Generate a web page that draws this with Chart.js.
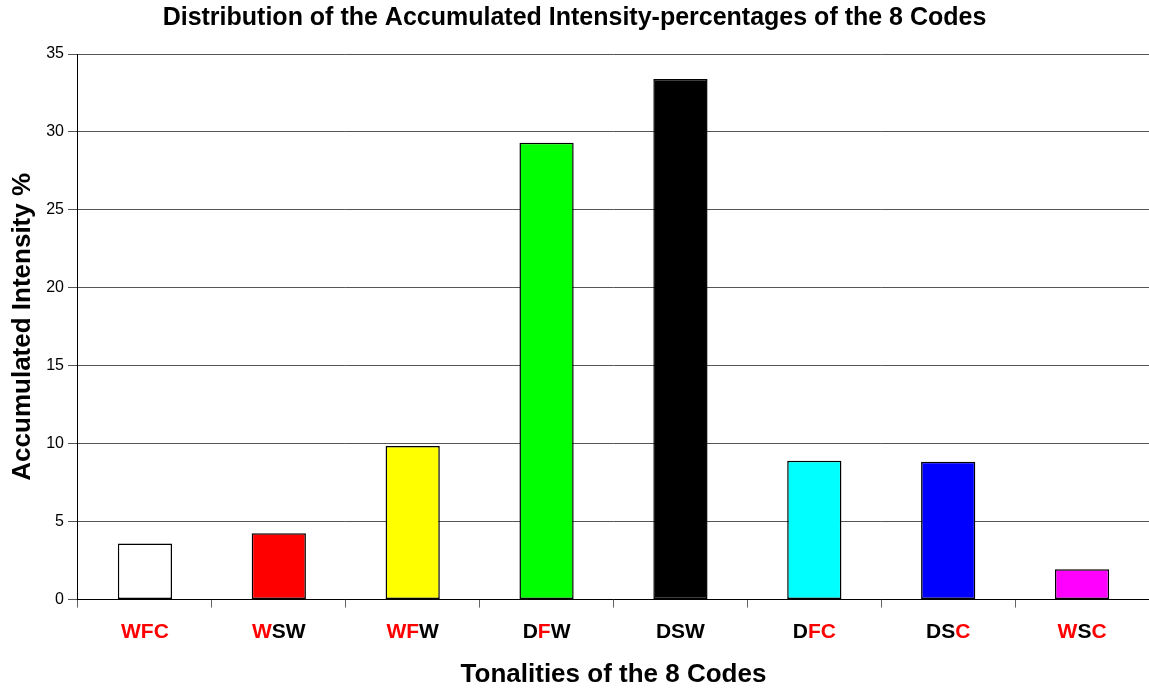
<!DOCTYPE html>
<html>
<head>
<meta charset="utf-8">
<script src="https://cdn.jsdelivr.net/npm/chart.js@4/dist/chart.umd.min.js"></script>
<style>
  html, body { margin: 0; padding: 0; background: #fff; }
  #wrap { width: 1149px; height: 690px; }
</style>
</head>
<body>
<div id="wrap"><canvas id="myChart"></canvas></div>
<script>
// categories and values
const codes = ['WFC', 'WSW', 'WFW', 'DFW', 'DSW', 'DFC', 'DSC', 'WSC'];
// letter colours of each label: R = red, K = black
const letterColors = ['RRR', 'RKK', 'RRK', 'KRK', 'KKK', 'KRR', 'KKR', 'RKR'];
const intensity = [3.6, 4.25, 9.85, 29.3, 33.4, 8.9, 8.85, 1.95];
const barColors = ['#ffffff', '#ff0000', '#ffff00', '#00ff00', '#000000', '#00ffff', '#0000ff', '#ff00ff'];
const yTicks = [0, 5, 10, 15, 20, 25, 30, 35];

const font = 'Liberation Sans, Arial, sans-serif';

// draws the x labels letter by letter in two colours
const colouredLabels = {
    id: 'colouredLabels',
    afterDraw(chart) {
        const ctx = chart.ctx;
        const xs = chart.scales.x;
        ctx.save();
        ctx.font = 'bold 21px ' + font;
        ctx.textBaseline = 'middle';
        ctx.textAlign = 'left';
        codes.forEach(function (code, i) {
            const cx = xs.getPixelForValue(i);
            const w = ctx.measureText(code).width;
            let x = cx - w / 2;
            for (let k = 0; k < code.length; k++) {
                ctx.fillStyle = letterColors[i][k] === 'R' ? '#ff0000' : '#000000';
                ctx.fillText(code[k], x, 632);
                x += ctx.measureText(code[k]).width;
            }
        });
        ctx.restore();
    }
};

const ctx = document.getElementById('myChart').getContext('2d');
const myChart = new Chart(ctx, {
    type: 'bar',
    data: {
        labels: codes,
        datasets: [{
            label: 'Accumulated Intensity %',
            data: intensity,
            backgroundColor: barColors,
            borderColor: '#000000',
            borderWidth: 1.5,
            borderSkipped: false,
            categoryPercentage: 1.0,
            barPercentage: 0.405
        }]
    },
    options: {
        responsive: true,
        maintainAspectRatio: false,
        animation: false,
        layout: { padding: { left: 0, right: 0, top: 0, bottom: 0 } },
        plugins: {
            legend: { display: false },
            tooltip: { enabled: false },
            title: {
                display: true,
                text: 'Distribution of the Accumulated Intensity-percentages of the 8 Codes',
                color: '#000',
                font: { family: font, size: 25, weight: 'bold' },
                padding: { top: 3, bottom: 21 }
            }
        },
        scales: {
            x: {
                border: { color: '#000', width: 1 },
                grid: { drawOnChartArea: false, drawTicks: true, tickLength: 8, color: '#666', offset: true },
                ticks: { color: 'rgba(0,0,0,0)', font: { family: font, size: 21, weight: 'bold' }, padding: 8 },
                title: {
                    display: true,
                    text: 'Tonalities of the 8 Codes',
                    color: '#000',
                    font: { family: font, size: 26, weight: 'bold' },
                    padding: { top: 10, bottom: 0 }
                }
            },
            y: {
                min: 0,
                max: 35,
                border: { color: '#000', width: 1 },
                afterBuildTicks(scale) {
                    scale.ticks = yTicks.map(function (v) { return { value: v }; });
                },
                grid: { color: '#555', lineWidth: 1, tickLength: 10 },
                ticks: { color: '#000', font: { family: font, size: 16 }, padding: 4 },
                title: {
                    display: true,
                    text: 'Accumulated Intensity %',
                    color: '#000',
                    font: { family: font, size: 26, weight: 'bold' },
                    padding: { top: 7, bottom: 4 }
                }
            }
        }
    },
    plugins: [colouredLabels]
});
</script>
</body>
</html>
